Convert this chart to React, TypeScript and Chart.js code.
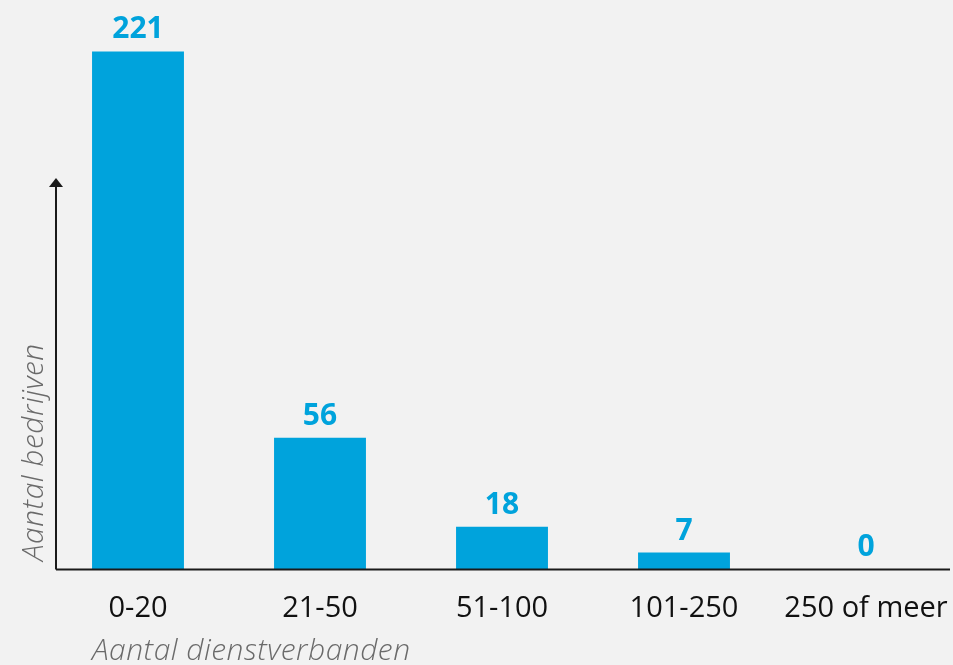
import React, { useEffect, useRef } from "react";
import { Chart, registerables } from "chart.js";

Chart.register(...registerables);

const categories = ["0-20", "21-50", "51-100", "101-250", "250 of meer"];
const counts = [221, 56, 18, 7, 0];
const xTitle = "Aantal dienstverbanden";
const yTitle = "Aantal bedrijven";

const BLUE = "#00a3dc";
const BG = "#f2f2f2";

const decorPlugin = {
  id: "decor",
  afterDatasetsDraw(chart: any) {
    const { ctx } = chart;
    const ys = chart.scales.y;
    const meta = chart.getDatasetMeta(0);
    ctx.save();
    // value labels
    ctx.fillStyle = BLUE;
    ctx.font = "700 30px 'Open Sans'";
    ctx.textAlign = "center";
    ctx.textBaseline = "alphabetic";
    meta.data.forEach((bar: any, i: number) => {
      ctx.fillText(String(counts[i]), bar.x, bar.y - 13);
    });
    // axes
    const x0 = 56;
    const yBase = Math.round(ys.getPixelForValue(0)) + 0.5;
    ctx.strokeStyle = "#1a1a1a";
    ctx.lineWidth = 2;
    ctx.beginPath();
    ctx.moveTo(x0, yBase);
    ctx.lineTo(950, yBase);
    ctx.stroke();
    ctx.beginPath();
    ctx.moveTo(x0, yBase);
    ctx.lineTo(x0, 186);
    ctx.stroke();
    ctx.fillStyle = "#1a1a1a";
    ctx.beginPath();
    ctx.moveTo(x0, 178);
    ctx.lineTo(x0 - 7, 187);
    ctx.lineTo(x0 + 7, 187);
    ctx.closePath();
    ctx.fill();
    // titles
    ctx.fillStyle = "#6a6a6a";
    ctx.font = "italic 300 30px 'Open Sans'";
    (ctx as any).letterSpacing = "0.5px";
    ctx.textAlign = "left";
    ctx.textBaseline = "alphabetic";
    ctx.fillText(xTitle, 92, 660);
    ctx.translate(43, 561);
    ctx.rotate(-Math.PI / 2);
    ctx.fillText(yTitle, 0, 0);
    ctx.restore();
  },
};

export default function App() {
  const ref = useRef<HTMLCanvasElement>(null);
  useEffect(() => {
    document.body.style.margin = "0";
    document.body.style.background = BG;
    const chart = new Chart(ref.current!, {
      type: "bar",
      data: {
        datasets: [
          {
            data: counts.map((v, i) => ({ x: i, y: v })),
            backgroundColor: BLUE,
            borderWidth: 0,
            barPercentage: 0.505,
            categoryPercentage: 1,
          },
        ],
      },
      options: {
        animation: false,
        responsive: false,
        maintainAspectRatio: false,
        layout: { padding: { left: 47, right: 0, top: 7, bottom: 0 } },
        plugins: { legend: { display: false }, tooltip: { enabled: false } },
        scales: {
          x: {
            type: "linear",
            offset: false,
            min: -0.5,
            max: 4.478,
            grid: { display: false },
            border: { display: false },
            afterBuildTicks: (scale: any) => {
              scale.ticks = categories.map((_, i) => ({ value: i }));
            },
            afterFit: (scale: any) => {
              scale.height = 96;
              scale.paddingLeft = 0;
              scale.paddingRight = 0;
            },
            ticks: {
              autoSkip: false,
              maxRotation: 0,
              padding: 14,
              color: "#111",
              font: { family: "'Open Sans'", size: 29 },
              callback: (v: any) => categories[Math.round(Number(v))] ?? "",
            },
          },
          y: {
            display: false,
            min: 0,
            max: 240,
          },
        },
      },
      plugins: [decorPlugin],
    });
    return () => chart.destroy();
  }, []);
  return (
    <div style={{ position: "relative", width: 953, height: 665, background: BG }}>
      <canvas ref={ref} width={953} height={665} style={{ display: "block", width: 953, height: 665 }} />
    </div>
  );
}
